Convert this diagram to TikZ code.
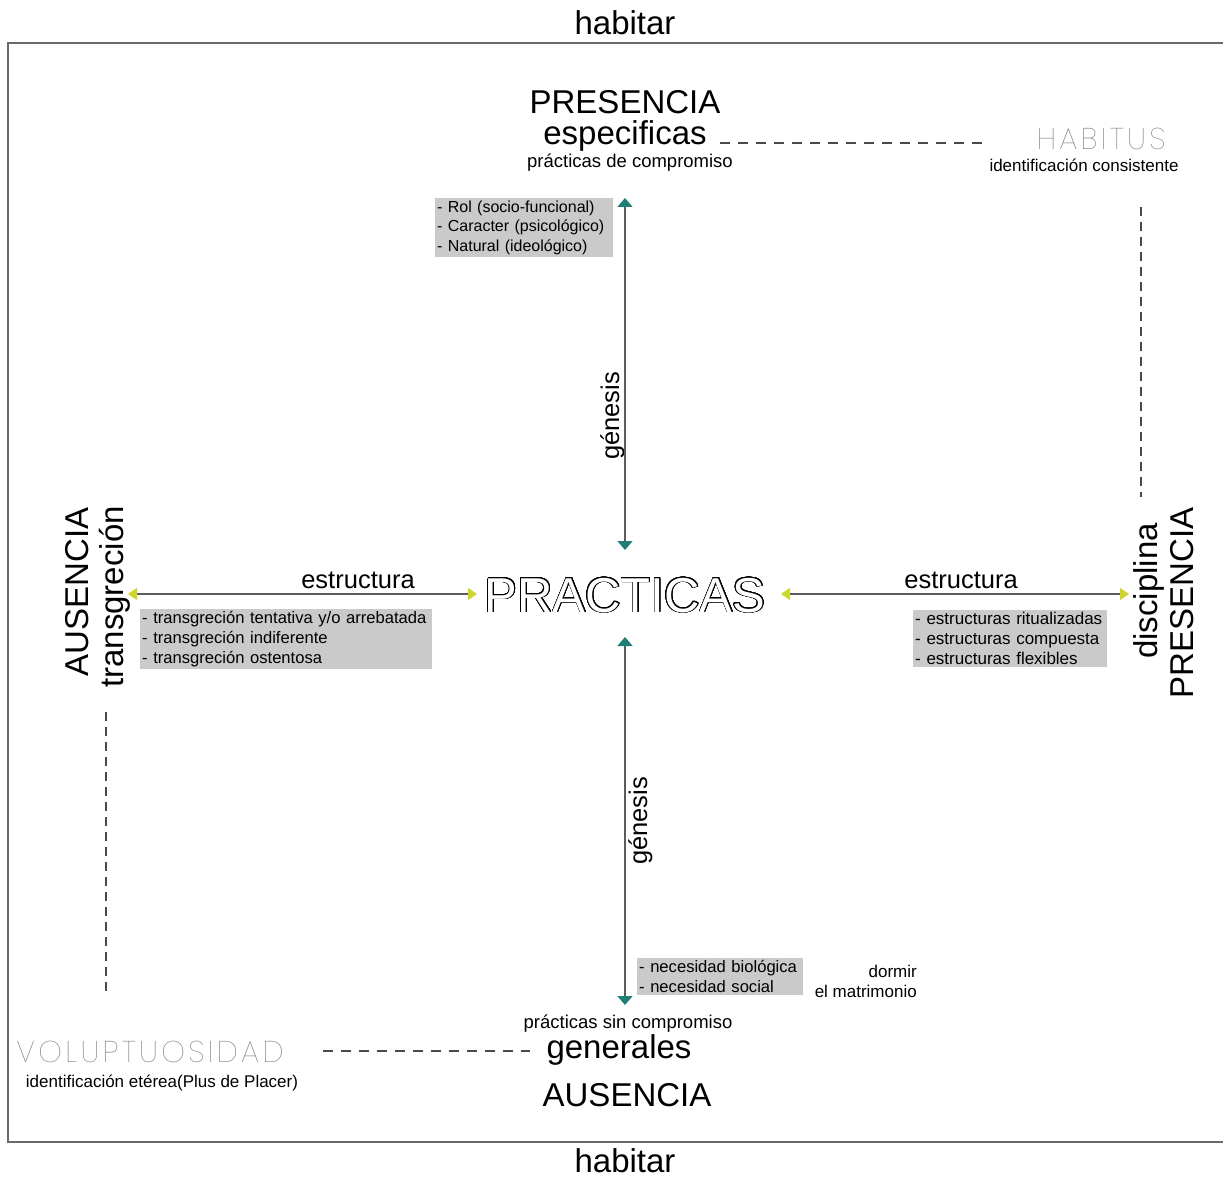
\documentclass[tikz,border=0pt]{standalone}
\usepackage{fontspec}
\setmainfont{Liberation Sans}
\IfFontExistsTF{Poppins Thin}
  {\newfontfamily\thinfont{Poppins Thin}[LetterSpace=11]}
  {\newfontfamily\thinfont{Liberation Sans}[LetterSpace=8]}
\usepackage[copies]{contour}
\contourlength{0.8pt}
\contournumber{32}
\usetikzlibrary{arrows.meta}

\definecolor{framegray}{HTML}{6A6A6A}
\definecolor{shaftgray}{HTML}{5C5C5C}
\definecolor{dashgray}{HTML}{4A4A4A}
\definecolor{boxgray}{HTML}{CACACA}
\definecolor{tealtip}{HTML}{1F7F76}
\definecolor{limetip}{HTML}{CDD62C}
\definecolor{faintgray}{HTML}{727272}

\tikzset{
  lbl/.style={inner sep=0pt, anchor=base},
  big/.style={lbl, font=\fontsize{33}{36}\selectfont},
  mid/.style={lbl, font=\fontsize{25.5}{28}\selectfont},
  small/.style={lbl, font=\fontsize{18.5}{21}\selectfont},
  note/.style={lbl, font=\fontsize{17}{19.7}\selectfont},
  faint/.style={lbl, text=faintgray, font=\thinfont\fontsize{30}{32}\selectfont},
  listbox/.style={fill=boxgray, anchor=north west, align=left, inner xsep=2pt,
    inner ysep=2.4pt, execute at begin node={\hyphenpenalty=10000\exhyphenpenalty=10000}},
  listfont/.style={font=\fontsize{#1}{19.7}\selectfont},
  genesisaxis/.style={draw=shaftgray, line width=1.3pt,
    {Triangle[width=15pt,length=9pt,color=tealtip]}-{Triangle[width=15pt,length=9pt,color=tealtip]}},
  estructuraaxis/.style={draw=shaftgray, line width=1.3pt,
    {Triangle[width=12pt,length=9pt,color=limetip]}-{Triangle[width=12pt,length=9pt,color=limetip]}},
  linkdash/.style={draw=dashgray, line width=1.5pt, dash pattern=on 10pt off 8pt},
  linkdashv/.style={draw=dashgray, line width=1.5pt, dash pattern=on 9pt off 6pt},
}

\begin{document}
\begin{tikzpicture}[x=1pt, y=-1pt]
  \useasboundingbox (0,0) rectangle (1223,1177);

  % open frame (top, left and bottom sides)
  \coordinate (fTR) at (1223,43);
  \coordinate (fTL) at (8,43);
  \coordinate (fBL) at (8,1142);
  \coordinate (fBR) at (1223,1142);
  \draw[framegray, line width=1.6pt] (fTR) -- (fTL) -- (fBL) -- (fBR);

  % titles outside the frame
  \node[big] (habTop) at (625,35) {habitar};
  \node[big] (habBot) at (625,1172) {habitar};

  % centre
  \node[lbl, font=\fontsize{49}{52}\selectfont] (practicas) at (625,612)
    {\contour{black}{\textcolor{white}{PRACTICAS}}};

  % upper pole
  \node[big] (presTop) at (625,114) {PRESENCIA};
  \node[big] (especificas) at (625,145) {especificas};
  \node[small] (compromiso) at (630,168) {prácticas de compromiso};
  \node[faint] (habitus) at (1101,150) {HABITUS};
  \node[note] (consistente) at (1084,172) {identificación consistente};

  % lower pole
  \node[small] (sincomp) at (628,1028) {prácticas sin compromiso};
  \node[big] (generales) at (619,1058) {generales};
  \node[big] (ausBot) at (627,1106) {AUSENCIA};
  \node[faint] (voluptuosidad) at (150,1062) {VOLUPTUOSIDAD};
  \node[note] (eterea) at (162,1087) {identificación etérea(Plus de Placer)};
  \node[note, anchor=base east] (dormir) at (917,977) {dormir};
  \node[note, anchor=base east] (matrimonio) at (917,997) {el matrimonio};

  % left pole
  \node[big, rotate=90] (ausLeft) at (88,592) {AUSENCIA};
  \node[big, rotate=90] (transgrecion) at (123,597) {transgreción};

  % right pole
  \node[big, rotate=90] (disciplina) at (1157,591) {disciplina};
  \node[big, rotate=90] (presRight) at (1193,603) {PRESENCIA};

  % axis labels
  \node[mid, rotate=90] (genesisTop) at (619,416) {génesis};
  \node[mid, rotate=90] (genesisBot) at (647,821) {génesis};
  \node[mid] (estrLeft) at (358,588) {estructura};
  \node[mid] (estrRight) at (961,588) {estructura};

  % grey lists
  \node[listbox, listfont=16, text width=174pt] (listTop) at (435,198)
    {- Rol (socio-funcional)\\- Caracter (psicológico)\\- Natural (ideológico)};
  \node[listbox, listfont=16.6, text width=288pt] (listLeft) at (140,609)
    {- transgreción tentativa y/o arrebatada\\- transgreción indiferente\\- transgreción ostentosa};
  \node[listbox, listfont=17, text width=190pt] (listRight) at (913,610)
    {- estructuras ritualizadas\\- estructuras compuesta\\- estructuras flexibles};
  \node[listbox, listfont=16.6, text width=162pt] (listBot) at (637,958)
    {- necesidad biológica\\- necesidad social};

  % axes
  \coordinate (gtA) at (625,198);
  \coordinate (gtB) at (625,550);
  \coordinate (gbA) at (625,637);
  \coordinate (gbB) at (625,1005);
  \coordinate (elA) at (128,594);
  \coordinate (elB) at (477,594);
  \coordinate (erA) at (781,594);
  \coordinate (erB) at (1129,594);
  \draw[genesisaxis] (gtA) -- (gtB);
  \draw[genesisaxis] (gbA) -- (gbB);
  \draw[estructuraaxis] (elA) -- (elB);
  \draw[estructuraaxis] (erA) -- (erB);

  % dashed links between the poles and the corner notions
  \coordinate (dTA) at (720,143);
  \coordinate (dTB) at (985,143);
  \coordinate (dRA) at (1141,207);
  \coordinate (dRB) at (1141,497);
  \coordinate (dLA) at (106,712);
  \coordinate (dLB) at (106,995);
  \coordinate (dBA) at (323,1051);
  \coordinate (dBB) at (530,1051);
  \draw[linkdash] (dTA) -- (dTB);
  \draw[linkdashv] (dRA) -- (dRB);
  \draw[linkdashv] (dLA) -- (dLB);
  \draw[linkdash] (dBA) -- (dBB);
\end{tikzpicture}
\end{document}
